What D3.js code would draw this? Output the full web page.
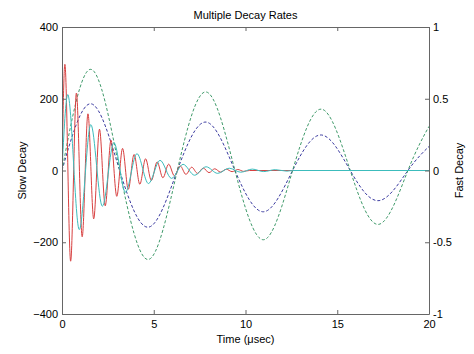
<!DOCTYPE html>
<html><head><meta charset="utf-8">
<script src="https://cdn.jsdelivr.net/npm/d3@7"></script>
<style>
body{margin:0;background:#fff}
text{font-family:"Liberation Sans",Arial,Helvetica,sans-serif;font-size:11px;fill:#000}
</style>
</head><body><svg id="c" width="474" height="354"></svg>
<script>
const title = "Multiple Decay Rates";
const xLabel = "Time (\u03bcsec)";
const leftLabel = "Slow Decay";
const rightLabel = "Fast Decay";
const xTicks = [0, 5, 10, 15, 20];
const leftTicks = [-400, -200, 0, 200, 400];
const rightTicks = [-1, -0.5, 0, 0.5, 1];

// Slow decay (left axis), [time, value] read at zero crossings and extrema
const slowBlue = [[0,0],[1.571,186],[3.142,0],[4.712,-158],[6.283,0],[7.854,135],[9.425,0],[10.996,-115],[12.566,0],[14.137,99],[15.708,0],[17.279,-84],[18.850,0],[20,67]];
const slowGreen = [[0,0],[1.571,282],[3.142,0],[4.712,-248],[6.283,0],[7.854,219],[9.425,0],[10.996,-193],[12.566,0],[14.137,171],[15.708,0],[17.279,-150],[18.850,0],[20,123]];

// Fast decay (right axis), [time, value] read at extrema
const fastRed = [[0,0],[0.157,0.740],[0.471,-0.632],[0.785,0.540],[1.100,-0.462],[1.414,0.395],[1.728,-0.337],[2.042,0.288],[2.356,-0.246],[2.670,0.211],[2.985,-0.180],[3.299,0.154],[3.613,-0.131],[3.927,0.112],[4.241,-0.096],[4.555,0.082],[4.869,-0.070],[5.184,0.060],[5.498,-0.051],[5.812,0.044],[6.126,-0.037],[6.440,0.032],[6.754,-0.027],[7.069,0.023],[7.383,-0.020],[7.697,0.017],[8.011,-0.015],[8.325,0.012],[8.639,-0.011],[8.954,0.009],[9.268,-0.008],[9.582,0.007],[9.896,-0.006],[10.210,0],[20,0]];
const fastCyan = [[0,0],[0.314,0.529],[0.942,-0.412],[1.571,0.320],[2.199,-0.249],[2.827,0.194],[3.456,-0.151],[4.084,0.117],[4.712,-0.091],[5.341,0.071],[5.969,-0.055],[6.597,0.043],[7.226,-0.033],[7.854,0.026],[8.482,-0.020],[9.111,0.016],[9.739,-0.012],[10.367,0.0097],[10.996,-0.0075],[11.624,0.0058],[12.252,-0.0045],[12.566,0],[20,0]];

const m = {l: 62, r: 429, t: 27, b: 314};
const svg = d3.select("#c");
const x = d3.scaleLinear().domain([0, 20]).range([m.l, m.r]);
const yL = d3.scaleLinear().domain([-400, 400]).range([m.b, m.t]);
const yR = d3.scaleLinear().domain([-1, 1]).range([m.b, m.t]);

svg.append("defs").append("clipPath").attr("id", "clip")
  .append("rect").attr("x", m.l).attr("y", m.t).attr("width", m.r - m.l).attr("height", m.b - m.t);

const plot = svg.append("g").attr("clip-path", "url(#clip)");
const lineL = d3.line().x(d => x(d[0])).y(d => yL(d[1])).curve(d3.curveNatural);
const lineR = d3.line().x(d => x(d[0])).y(d => yR(d[1])).curve(d3.curveMonotoneX);

plot.append("path").datum(slowBlue).attr("d", lineL).attr("fill", "none").attr("stroke", "#3a3aa0").attr("stroke-width", 1).attr("stroke-dasharray", "3,2");
plot.append("path").datum(slowGreen).attr("d", lineL).attr("fill", "none").attr("stroke", "#3f9a6a").attr("stroke-width", 1).attr("stroke-dasharray", "3,2");
plot.append("path").datum(fastRed).attr("d", lineR).attr("fill", "none").attr("stroke", "#d84040").attr("stroke-width", 1);
plot.append("path").datum(fastCyan).attr("d", lineR).attr("fill", "none").attr("stroke", "#3cbcbc").attr("stroke-width", 1);

const axCol = "#666";
function style(g) {
  g.selectAll("path.domain").attr("stroke", axCol);
  g.selectAll(".tick line").attr("stroke", axCol);
  g.selectAll(".tick text").attr("fill", "#000").style("font-size", "11px");
}
svg.append("g").attr("transform", `translate(0,${m.b})`)
  .call(d3.axisBottom(x).tickValues(xTicks).tickFormat(d3.format("d")).tickSizeInner(-4).tickSizeOuter(0).tickPadding(6)).call(style);
svg.append("g").attr("transform", `translate(0,${m.t})`)
  .call(d3.axisTop(x).tickValues(xTicks).tickFormat("").tickSizeInner(-4).tickSizeOuter(0)).call(style);
svg.append("g").attr("transform", `translate(${m.l},0)`)
  .call(d3.axisLeft(yL).tickValues(leftTicks).tickFormat(d3.format("d")).tickSizeInner(-4).tickSizeOuter(0).tickPadding(4)).call(style);
svg.append("g").attr("transform", `translate(${m.r},0)`)
  .call(d3.axisRight(yR).tickValues(rightTicks).tickFormat(d => String(d)).tickSizeInner(-4).tickSizeOuter(0).tickPadding(4)).call(style);

svg.append("text").attr("x", (m.l + m.r) / 2).attr("y", 18.5).attr("text-anchor", "middle").text(title);
svg.append("text").attr("x", (m.l + m.r) / 2).attr("y", 343).attr("text-anchor", "middle").text(xLabel);
svg.append("text").attr("transform", `translate(26,${(m.t + m.b) / 2}) rotate(-90)`).attr("text-anchor", "middle").text(leftLabel);
svg.append("text").attr("transform", `translate(463,${(m.t + m.b) / 2}) rotate(-90)`).attr("text-anchor", "middle").text(rightLabel);
</script>
</body></html>
